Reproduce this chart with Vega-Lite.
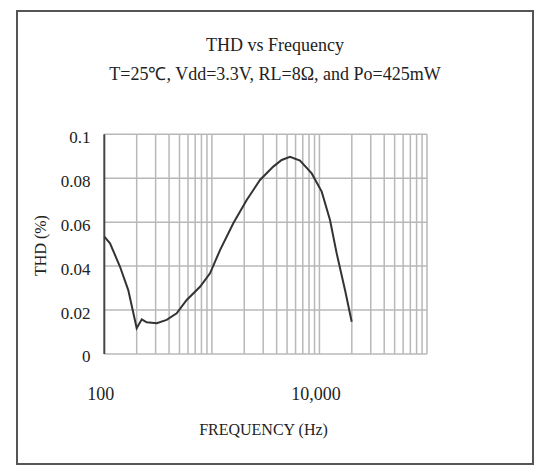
{
  "$schema": "https://vega.github.io/schema/vega-lite/v6.json",
  "width": 516,
  "height": 453,
  "autosize": "none",
  "padding": {"left": 17, "top": 11, "right": 5, "bottom": 11},
  "background": "white",
  "title": {
    "text": ["THD vs Frequency", "T=25℃, Vdd=3.3V, RL=8Ω, and Po=425mW"],
    "anchor": "middle",
    "frame": "group",
    "orient": "top",
    "baseline": "bottom",
    "offset": -91,
    "font": "Liberation Serif",
    "fontSize": 18,
    "fontWeight": "normal",
    "lineHeight": 29,
    "color": "#222"
  },
  "datasets": {
    "gx": [
      {"f": 100}, {"f": 200}, {"f": 300}, {"f": 400}, {"f": 500}, {"f": 600}, {"f": 700}, {"f": 800}, {"f": 900},
      {"f": 1000}, {"f": 2000}, {"f": 3000}, {"f": 4000}, {"f": 5000}, {"f": 6000}, {"f": 7000}, {"f": 8000}, {"f": 9000},
      {"f": 10000}, {"f": 20000}, {"f": 30000}, {"f": 40000}, {"f": 50000}, {"f": 60000}, {"f": 70000}, {"f": 80000}, {"f": 90000},
      {"f": 100000}
    ],
    "gy": [{"v": 0}, {"v": 0.02}, {"v": 0.04}, {"v": 0.06}, {"v": 0.08}, {"v": 0.1}],
    "thd": [
      {"f": 100, "thd": 0.0534},
      {"f": 113, "thd": 0.0504},
      {"f": 140, "thd": 0.0397},
      {"f": 167, "thd": 0.0291},
      {"f": 200, "thd": 0.0117},
      {"f": 223, "thd": 0.0158},
      {"f": 248, "thd": 0.0144},
      {"f": 307, "thd": 0.014},
      {"f": 380, "thd": 0.0155},
      {"f": 471, "thd": 0.0185},
      {"f": 583, "thd": 0.0246},
      {"f": 776, "thd": 0.0306},
      {"f": 961, "thd": 0.0367},
      {"f": 1191, "thd": 0.0473},
      {"f": 1582, "thd": 0.0595},
      {"f": 2108, "thd": 0.0701},
      {"f": 2801, "thd": 0.0792},
      {"f": 3724, "thd": 0.0853},
      {"f": 4456, "thd": 0.0883},
      {"f": 5326, "thd": 0.0898},
      {"f": 6596, "thd": 0.088},
      {"f": 8475, "thd": 0.0822},
      {"f": 10497, "thd": 0.0739},
      {"f": 12536, "thd": 0.061},
      {"f": 14463, "thd": 0.0458},
      {"f": 17290, "thd": 0.0291},
      {"f": 19953, "thd": 0.0147}
    ]
  },
  "layer": [
    {
      "data": {"name": "gy"},
      "mark": {"type": "rule", "strokeWidth": 1.5, "color": "#b8b8b8"},
      "encoding": {
        "y": {
          "field": "v",
          "type": "quantitative",
          "title": "THD (%)",
          "scale": {"domain": [-0.05007, 0.15612], "nice": false, "zero": false},
          "axis": {
            "orient": "left",
            "values": [0, 0.02, 0.04, 0.06, 0.08, 0.1],
            "format": "~g",
            "offset": -75,
            "labelPadding": 2,
            "ticks": false,
            "domain": false,
            "grid": false,
            "labelFont": "Liberation Serif",
            "labelFontSize": 17,
            "labelColor": "#222",
            "labelBaseline": "middle",
            "labelOffset": 3,
            "titleFont": "Liberation Serif",
            "titleFontSize": 16,
            "titleFontWeight": "normal",
            "titleColor": "#222",
            "titleAngle": -90,
            "titleBaseline": "middle",
            "titleAlign": "center",
            "titleX": -52,
            "titleY": 234
          }
        },
        "x": {
          "datum": 100,
          "type": "quantitative",
          "title": "FREQUENCY (Hz)",
          "scale": {"type": "log", "domain": [15.43, 966900], "nice": false}
        },
        "x2": {"datum": 100000}
      }
    },
    {
      "data": {"name": "gx"},
      "mark": {"type": "rule"},
      "encoding": {
        "x": {
          "field": "f",
          "type": "quantitative",
          "title": "FREQUENCY (Hz)",
          "scale": {"type": "log", "domain": [15.43, 966900], "nice": false},
          "axis": {
            "orient": "bottom",
            "values": [100, 10000],
            "format": ",d",
            "offset": -79,
            "labelPadding": 0,
            "ticks": false,
            "domain": false,
            "grid": false,
            "labelFont": "Liberation Serif",
            "labelFontSize": 18,
            "labelColor": "#222",
            "labelBaseline": "top",
            "labelOffset": -4,
            "titleFont": "Liberation Serif",
            "titleFontSize": 16,
            "titleFontWeight": "normal",
            "titleColor": "#222",
            "titlePadding": 18,
            "titleX": 246
          }
        },
        "y": {"datum": 0, "type": "quantitative", "title": "THD (%)"},
        "y2": {"datum": 0.1},
        "color": {"condition": {"test": "datum.f === 100", "value": "#444444"}, "value": "#b8b8b8"},
        "strokeWidth": {"condition": {"test": "datum.f === 100", "value": 2}, "value": 1.5}
      }
    },
    {
      "data": {"name": "thd"},
      "mark": {"type": "line", "color": "#333333", "strokeWidth": 2},
      "encoding": {
        "x": {"field": "f", "type": "quantitative", "title": "FREQUENCY (Hz)"},
        "y": {"field": "thd", "type": "quantitative", "title": "THD (%)"}
      }
    }
  ],
  "config": {
    "view": {"stroke": "#555555", "strokeWidth": 2}
  }
}
